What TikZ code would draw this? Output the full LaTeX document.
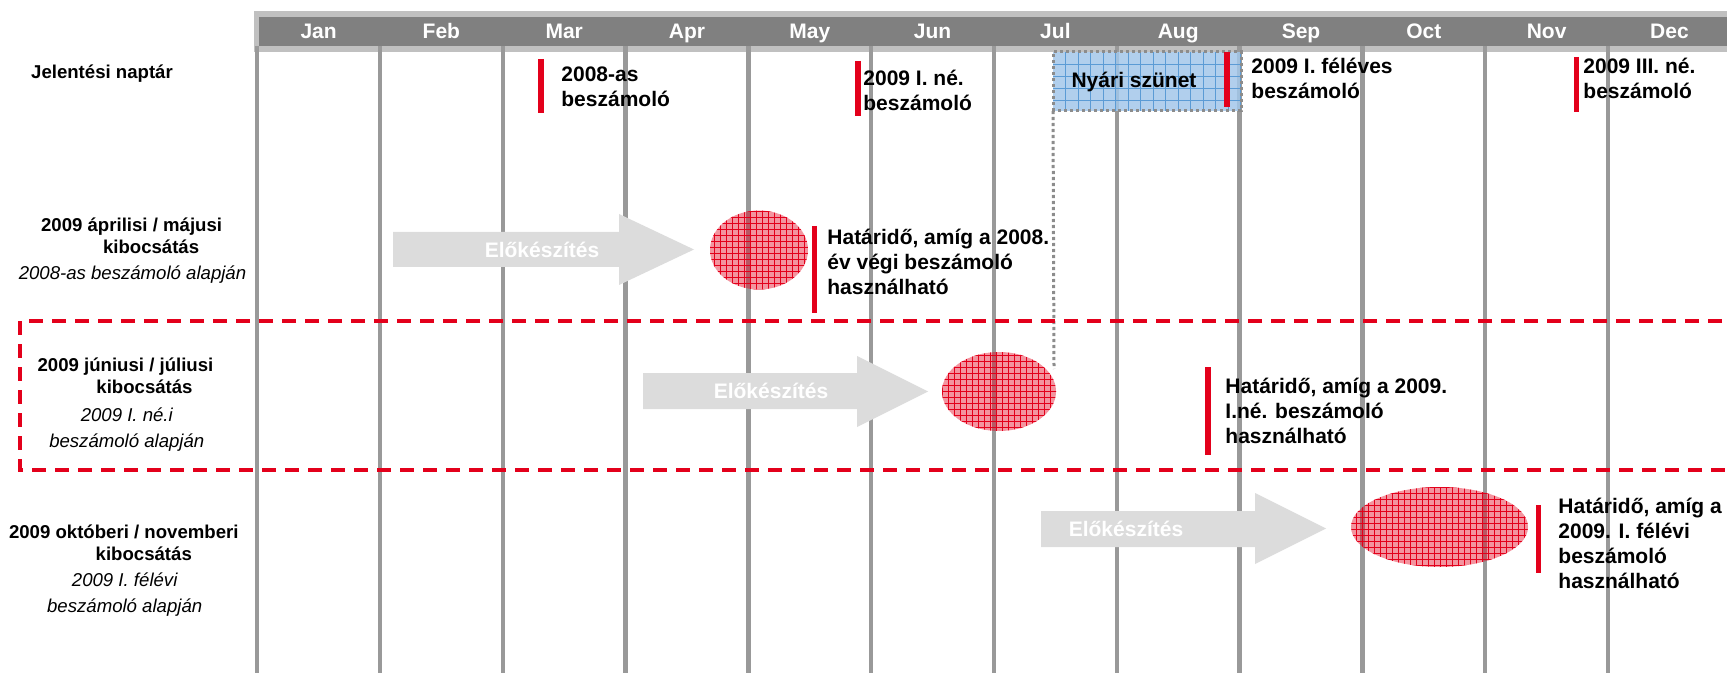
\documentclass[tikz,border=0pt]{standalone}
\usepackage{fontspec}
\setmainfont{Liberation Sans}
\usetikzlibrary{shapes.geometric,patterns}
\definecolor{myred}{HTML}{E3001B}
\definecolor{linegray}{HTML}{999999}
\definecolor{hdrdark}{HTML}{808080}
\definecolor{hdrlight}{HTML}{C0C0C0}
\definecolor{arrowgray}{HTML}{DCDCDC}
\definecolor{boxblue}{HTML}{A3C7EA}
\definecolor{boxgrid}{HTML}{5B9BD5}
\definecolor{dotgray}{HTML}{8C8C8C}
\tikzset{
  monthlbl/.style={text=white, font=\bfseries\fontsize{10.5}{12.5}\selectfont, anchor=base, inner sep=0},
  bodytxt/.style={font=\bfseries\fontsize{10.5}{12.5}\selectfont, align=left, anchor=base west, inner sep=0},
  rowlbl/.style={font=\bfseries\fontsize{9.3}{10.75}\selectfont, align=center, anchor=base, inner sep=0},
  rowsub/.style={font=\itshape\fontsize{9.3}{13}\selectfont, align=center, anchor=base, inner sep=0},
  redbar/.style={draw=myred, line width=2.75pt},
  monthline/.style={draw=linegray, line width=2.25pt},
  preparrow/.style={fill=arrowgray},
  preptxt/.style={text=white, font=\bfseries\fontsize{10.5}{12.5}\selectfont, inner sep=0},
  deadline/.style={ellipse, inner sep=0, outer sep=0, fill=myred, fill opacity=0.42,
     postaction={fill opacity=0.45, pattern=grid, pattern color=myred}},
  dotline/.style={draw=dotgray, line width=1.5pt, dash pattern=on 1.6pt off 1.4pt},
  reddash/.style={draw=myred, line width=1.75pt, dash pattern=on 7pt off 4.5pt},
}
\begin{document}
\begin{tikzpicture}[x=0.5pt,y=-0.5pt]
\useasboundingbox (0,0) rectangle (1727,673);
% header band
\fill[hdrlight] (254,11) rectangle (1740,52);
\fill[hdrdark] (259,17) rectangle (1740,46);
% month columns
\foreach \k in {0,...,11}
  \draw[monthline] ({257.2+122.8*\k},46) -- ({257.2+122.8*\k},673);
\foreach \m [count=\k from 0] in {Jan,Feb,Mar,Apr,May,Jun,Jul,Aug,Sep,Oct,Nov,Dec}
  \node[monthlbl] (m\k) at ({318.6+122.8*\k},39) {\m};
% summer break box
\node (nyari) [minimum width=94pt, minimum height=29.5pt, inner sep=0, outer sep=0,
   fill=boxblue, fill opacity=0.85] at (1147,81.5) {};
\begin{scope}
  \clip (1053,52) rectangle (1241,111);
  \foreach \x in {1,...,15} \draw[boxgrid, line width=0.4pt] ({1053+12.5*\x},52) -- ({1053+12.5*\x},111);
  \foreach \y in {1,...,4} \draw[boxgrid, line width=0.4pt] (1053,{52+12*\y}) -- (1241,{52+12*\y});
\end{scope}
\draw[dotline] (nyari.south west) rectangle (nyari.north east);
\coordinate (dotend) at (1054,369);
\draw[dotline] (nyari.south west) -- (dotend);
\node[font=\bfseries\fontsize{10.5}{12.5}\selectfont, inner sep=0, anchor=base] (nyaritxt) at (1134,88) {Nyári szünet};
% red dashed frame around row 2
\draw[reddash] (1745,321) -- (20,321) -- (20,470) -- (1745,470);
% preparation arrows
\fill[preparrow] (393,232) -- (619,232) -- (619,214) -- (694,249.5) -- (619,285) -- (619,267) -- (393,267) -- cycle;
\node[preptxt] (prep1) at (542,250) {Előkészítés};
\fill[preparrow] (643,373) -- (857,373) -- (857,356) -- (928,391.5) -- (857,427) -- (857,409) -- (643,409) -- cycle;
\node[preptxt] (prep2) at (771,391) {Előkészítés};
\fill[preparrow] (1041,511) -- (1255,511) -- (1255,493) -- (1326,528.5) -- (1255,564) -- (1255,547) -- (1041,547) -- cycle;
\node[preptxt] (prep3) at (1126,529) {Előkészítés};
% deadline ellipses
\node[deadline, minimum width=49pt, minimum height=39.5pt] (dl1) at (759,250) {};
\node[deadline, minimum width=57pt, minimum height=39.5pt] (dl2) at (999,391.5) {};
\node[deadline, minimum width=88.5pt, minimum height=40pt] (dl3) at (1439.5,527) {};
% red bars
\draw[redbar] (541,59) -- (541,113);
\draw[redbar] (858,61) -- (858,116);
\draw[redbar] (1227,52) -- (1227,107);
\draw[redbar] (1576.5,57) -- (1576.5,112);
\draw[redbar] (814.5,226) -- (814.5,313);
\draw[redbar] (1208,367) -- (1208,455);
\draw[redbar] (1538.5,505) -- (1538.5,573);
% report texts (anchor = baseline of last line)
\node[bodytxt] (r1) at (561,107) {2008-as\\beszámoló};
\node[bodytxt] (r2) at (863,111) {2009 I. né.\\beszámoló};
\node[bodytxt] (r3) at (1251,99) {2009 I. féléves\\beszámoló};
\node[bodytxt] (r4) at (1583,99) {2009 III. né.\\beszámoló};
\node[bodytxt] (d1) at (827,295) {Határidő, amíg a 2008.\\év végi beszámoló\\használható};
\node[bodytxt] (d2) at (1225,443) {Határidő, amíg a 2009.\\I.né. beszámoló\\használható};
\node[bodytxt] (d3) at (1558,588) {Határidő, amíg a\\2009. I. félévi\\beszámoló\\használható};
% row labels
\node[rowlbl] (cal) at (102,79) {Jelentési naptár};
\node[rowlbl] (l1) at (131.6,253.5) {2009 áprilisi / májusi\\\hspace*{19.5pt}kibocsátás};
\node[rowsub] (s1) at (132.5,280) {2008-as beszámoló alapján};
\node[rowlbl] (l2) at (125.5,393.5) {2009 júniusi / júliusi\\\hspace*{19pt}kibocsátás};
\node[rowsub] (s2) at (126.8,447) {2009 I. né.i\\beszámoló alapján};
\node[rowlbl] (l3) at (123.8,560) {2009 októberi / novemberi\\\hspace*{20pt}kibocsátás};
\node[rowsub] (s3) at (124.7,612) {2009 I. félévi\\beszámoló alapján};
\end{tikzpicture}
\end{document}
